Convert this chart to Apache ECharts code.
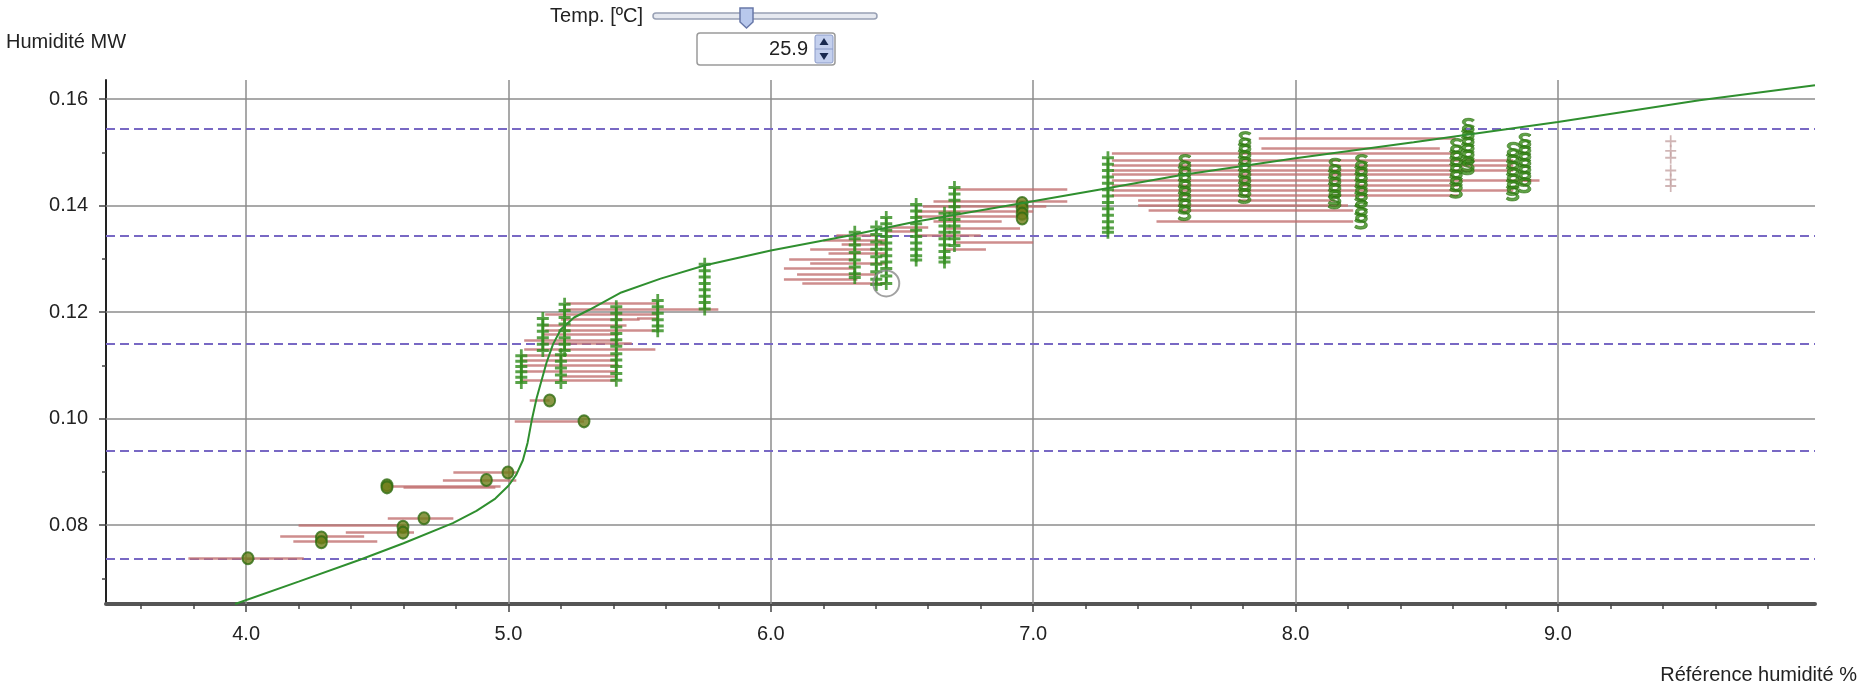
<!DOCTYPE html>
<html>
<head>
<meta charset="utf-8">
<title>Humidité MW</title>
<script src="https://cdn.jsdelivr.net/npm/echarts@6/dist/echarts.min.js"></script>
<style>
  html, body { margin: 0; padding: 0; background: #fff; }
  #chart { width: 1867px; height: 688px; }
</style>
</head>
<body>
<div id="chart"></div>
<script>
  // axes
  const xRange = [3.466, 9.98];
  const yRange = [0.0652, 0.1636];
  const xMajor = [4, 5, 6, 7, 8, 9];
  const xMinor = [3.6, 3.8, 4.2, 4.4, 4.6, 4.8, 5.2, 5.4, 5.6, 5.8, 6.2, 6.4, 6.6, 6.8,
                  7.2, 7.4, 7.6, 7.8, 8.2, 8.4, 8.6, 8.8, 9.2, 9.4, 9.6, 9.8];
  const yMajor = [0.08, 0.10, 0.12, 0.14, 0.16];
  const yMinor = [0.07, 0.09, 0.11, 0.13, 0.15];

  // dashed limit levels
  const limitLevels = [0.0737, 0.0939, 0.1141, 0.1343, 0.1545];

  // fitted curve
  const curveX = [3.958, 4.2, 4.434, 4.6, 4.788, 4.878, 4.95, 5.0, 5.03, 5.055, 5.073, 5.09, 5.107,
                  5.125, 5.145, 5.17, 5.2, 5.25, 5.31, 5.43, 5.58, 5.75, 6.0, 6.3, 6.55, 6.95,
                  7.25, 7.56, 8.0, 8.45, 9.0, 9.54, 9.98];
  const curveY = [0.0652, 0.0694, 0.0735, 0.0766, 0.0804, 0.0827, 0.0850, 0.0874, 0.0895, 0.0922,
                  0.0955, 0.1000, 0.1038, 0.1070, 0.1105, 0.1140, 0.1168, 0.1190, 0.1205, 0.1237,
                  0.1263, 0.1288, 0.1316, 0.1344, 0.1370, 0.1404, 0.1430, 0.1457, 0.1489, 0.1519,
                  0.1557, 0.1598, 0.1626];

  // measured points: circles
  const circlePts = [
    [4.007, 0.0738], [4.287, 0.0777], [4.287, 0.0768], [4.598, 0.0797], [4.598, 0.0786],
    [4.678, 0.0813], [4.537, 0.0875], [4.537, 0.0871], [4.916, 0.0885], [4.998, 0.0899],
    [5.288, 0.0995], [5.157, 0.1034],
    [6.958, 0.1405], [6.958, 0.1395], [6.958, 0.1385], [6.958, 0.1376]
  ];

  // measured points: cross stacks [x, [y...]]
  const crossStacks = [
    [5.049, [0.1118, 0.1108, 0.1098, 0.1088, 0.1078, 0.1068]],
    [5.131, [0.1188, 0.1176, 0.1164, 0.1152, 0.1140, 0.1128]],
    [5.214, [0.1215, 0.1203, 0.1190, 0.1178, 0.1165, 0.1152, 0.1140, 0.1128]],
    [5.200, [0.1120, 0.1108, 0.1095, 0.1082, 0.1068]],
    [5.411, [0.1210, 0.1198, 0.1186, 0.1172, 0.1160, 0.1148, 0.1136, 0.1122, 0.1110, 0.1098, 0.1085, 0.1072]],
    [5.569, [0.1222, 0.1210, 0.1198, 0.1186, 0.1174, 0.1165]],
    [5.748, [0.1290, 0.1278, 0.1266, 0.1254, 0.1242, 0.1230, 0.1218, 0.1206]],
    [6.320, [0.1350, 0.1338, 0.1326, 0.1312, 0.1298, 0.1285, 0.1272, 0.1265]],
    [6.402, [0.1360, 0.1346, 0.1332, 0.1318, 0.1304, 0.1290, 0.1276, 0.1262, 0.1252]],
    [6.440, [0.1378, 0.1366, 0.1354, 0.1342, 0.1330, 0.1318, 0.1306, 0.1294, 0.1282, 0.1268, 0.1254]],
    [6.554, [0.1402, 0.1390, 0.1378, 0.1366, 0.1354, 0.1342, 0.1330, 0.1318, 0.1306, 0.1298]],
    [6.662, [0.1386, 0.1374, 0.1362, 0.1350, 0.1338, 0.1326, 0.1314, 0.1302, 0.1294]],
    [6.700, [0.1434, 0.1422, 0.1410, 0.1398, 0.1386, 0.1374, 0.1362, 0.1350, 0.1338, 0.1325]],
    [7.285, [0.1490, 0.1478, 0.1466, 0.1454, 0.1442, 0.1430, 0.1418, 0.1406, 0.1394, 0.1382, 0.1370, 0.1358, 0.1350]]
  ];

  // measured points: S-marker stacks
  const sStacks = [
    [7.577, [0.1482, 0.1470, 0.1458, 0.1446, 0.1434, 0.1422, 0.1410, 0.1398, 0.1386]],
    [7.806, [0.1525, 0.1513, 0.1501, 0.1489, 0.1477, 0.1465, 0.1453, 0.1441, 0.1429, 0.1418]],
    [8.149, [0.1475, 0.1463, 0.1451, 0.1439, 0.1427, 0.1415, 0.1408]],
    [8.250, [0.1482, 0.1470, 0.1458, 0.1446, 0.1434, 0.1422, 0.1410, 0.1395, 0.1382, 0.1370]],
    [8.612, [0.1512, 0.1500, 0.1488, 0.1476, 0.1464, 0.1452, 0.1440, 0.1428]],
    [8.657, [0.1550, 0.1538, 0.1526, 0.1514, 0.1502, 0.1490, 0.1478, 0.1472]],
    [8.828, [0.1505, 0.1493, 0.1481, 0.1469, 0.1457, 0.1445, 0.1433, 0.1423]],
    [8.873, [0.1522, 0.1510, 0.1498, 0.1486, 0.1474, 0.1462, 0.1450, 0.1438]]
  ];

  // grey reference crosses
  const greyX = 9.43;
  const greyY = [0.1521, 0.1503, 0.1490, 0.1466, 0.1449, 0.1437];

  // selected point
  const selectedPt = [6.44, 0.1254];

  // horizontal deviation segments [x1, x2, y]
  const segments = [
    [3.78, 4.22, 0.0738],
    [4.13, 4.45, 0.0779], [4.18, 4.50, 0.0770],
    [4.20, 4.60, 0.0799], [4.38, 4.64, 0.0787],
    [4.54, 4.79, 0.0813],
    [4.54, 4.97, 0.0874], [4.60, 4.95, 0.0871],
    [4.75, 5.03, 0.0885], [4.79, 5.035, 0.0899],
    [5.024, 5.288, 0.0995], [5.081, 5.157, 0.1034],
    [5.22, 5.57, 0.1216], [5.22, 5.57, 0.1206], [5.14, 5.57, 0.1196], [5.20, 5.50, 0.1186],
    [5.13, 5.45, 0.1176], [5.14, 5.56, 0.1166], [5.13, 5.42, 0.1158], [5.06, 5.42, 0.1148],
    [5.13, 5.47, 0.1142], [5.06, 5.56, 0.1130], [5.05, 5.42, 0.1120], [5.05, 5.41, 0.1110],
    [5.05, 5.42, 0.1100], [5.05, 5.41, 0.1090], [5.20, 5.41, 0.1080], [5.05, 5.41, 0.1072],
    [5.57, 5.80, 0.1205], [5.49, 5.57, 0.1188],
    [6.25, 6.40, 0.1344], [6.20, 6.44, 0.1336], [6.27, 6.44, 0.1328], [6.15, 6.40, 0.1318],
    [6.22, 6.44, 0.1310], [6.07, 6.32, 0.1300], [6.15, 6.44, 0.1292], [6.05, 6.32, 0.1282],
    [6.10, 6.40, 0.1272], [6.05, 6.33, 0.1262], [6.12, 6.44, 0.1254],
    [6.44, 6.60, 0.1360], [6.44, 6.56, 0.1352],
    [6.70, 7.13, 0.1430], [6.62, 7.13, 0.1408], [6.58, 7.05, 0.1398], [6.56, 7.00, 0.1389],
    [6.55, 6.95, 0.1380], [6.62, 6.88, 0.1370], [6.66, 6.95, 0.1357], [6.55, 6.80, 0.1345],
    [6.70, 7.00, 0.1332], [6.66, 6.82, 0.1318],
    [7.86, 8.61, 0.1526], [7.87, 8.55, 0.1507], [7.30, 8.61, 0.1498], [7.30, 8.83, 0.1485],
    [7.30, 8.83, 0.1476], [7.30, 8.83, 0.1466], [7.30, 8.60, 0.1459], [7.30, 8.90, 0.1448],
    [7.30, 8.62, 0.1438], [7.30, 8.83, 0.1429], [7.30, 8.62, 0.1420], [7.40, 8.15, 0.1410],
    [7.40, 8.20, 0.1401], [7.44, 8.22, 0.1391], [7.47, 8.22, 0.1371], [8.87, 8.93, 0.1447]
  ];

  const FONT = "'Liberation Sans', Arial, sans-serif";
  const crossPath = 'path://M5,0H8V5H13V8H8V13H5V8H0V5H5Z';
  const thinCrossPath = 'path://M5.5,0H7.5V5.5H13V7.5H7.5V13H5.5V7.5H0V5.5H5.5Z';
  const sPath = 'path://M10,2C8,0 2,0 1,2.5C0,5 2,6.5 5,7C8,7.5 8,9.5 7,10.5C6,11.5 3,11.5 1,10L0,12C2,14 8,14 9.5,11.5C10.5,9 9,7 5.5,6.2C3,5.7 2.8,4 3.5,3.2C4.5,2.2 7,2.4 8.5,3.5Z';

  function flatten(stacks) {
    const out = [];
    stacks.forEach(s => s[1].forEach(y => out.push([s[0], y])));
    return out;
  }

  // extra axes that only carry tick marks at given values
  function tickAxis(isX, values, len) {
    return {
      type: 'value',
      position: isX ? 'bottom' : 'left',
      min: isX ? xRange[0] : yRange[0],
      max: isX ? xRange[1] : yRange[1],
      axisLine: {show: false},
      splitLine: {show: false},
      axisLabel: {show: false},
      axisTick: {show: true, customValues: values, length: len, lineStyle: {color: '#444', width: 1.5}}
    };
  }

  const gridLines = [];
  xMajor.forEach(x => gridLines.push({coords: [[x, yRange[0]], [x, yRange[1]]]}));
  yMajor.forEach(y => gridLines.push({coords: [[xRange[0], y], [xRange[1], y]]}));

  const chart = echarts.init(document.getElementById('chart'));
  chart.setOption({
    animation: false,
    backgroundColor: '#fff',
    grid: {left: 106, right: 52, top: 80, bottom: 84},
    xAxis: [
      {
        type: 'value', min: xRange[0], max: xRange[1],
        axisLine: {onZero: false, lineStyle: {color: '#555', width: 4}},
        axisTick: {show: false},
        splitLine: {show: false},
        axisLabel: {
          customValues: xMajor, margin: 20,
          color: '#222', fontSize: 20, fontFamily: FONT,
          formatter: v => v.toFixed(1)
        }
      },
      tickAxis(true, xMajor, 8),
      tickAxis(true, xMinor, 5)
    ],
    yAxis: [
      {
        type: 'value', min: yRange[0], max: yRange[1],
        axisLine: {show: true, onZero: false, lineStyle: {color: '#222', width: 2}},
        axisTick: {show: false},
        splitLine: {show: false},
        axisLabel: {
          customValues: yMajor, margin: 18,
          color: '#222', fontSize: 20, fontFamily: FONT,
          formatter: v => v.toFixed(2)
        }
      },
      tickAxis(false, yMajor, 7),
      tickAxis(false, yMinor, 4)
    ],
    series: [
      {
        type: 'lines', coordinateSystem: 'cartesian2d', silent: true, z: 1,
        lineStyle: {color: '#8c8c8c', width: 1.5, opacity: 1},
        data: gridLines
      },
      {
        type: 'lines', coordinateSystem: 'cartesian2d', silent: true,
        lineStyle: {color: '#7868c4', width: 2, type: [9, 5], opacity: 1},
        data: limitLevels.map(y => ({coords: [[xRange[0], y], [xRange[1], y]]}))
      },
      {
        type: 'lines', coordinateSystem: 'cartesian2d', silent: true,
        lineStyle: {color: '#c27070', width: 2.5, opacity: 0.8},
        data: segments.map(s => ({coords: [[s[0], s[2]], [s[1], s[2]]]}))
      },
      {
        type: 'line', showSymbol: false, smooth: false,
        lineStyle: {color: '#2f8f2f', width: 2},
        data: curveX.map((x, i) => [x, curveY[i]])
      },
      {
        type: 'scatter', symbol: 'circle', symbolSize: [11, 12],
        itemStyle: {color: '#6e7d18', borderColor: '#2f6d12', borderWidth: 2},
        data: circlePts
      },
      {
        type: 'scatter', symbol: crossPath, symbolSize: [12, 13],
        itemStyle: {color: '#2f8c1c'},
        data: flatten(crossStacks)
      },
      {
        type: 'scatter', symbol: sPath, symbolSize: [13, 15],
        itemStyle: {color: '#3a8c1a', borderColor: '#2a6e10', borderWidth: 0.8},
        data: flatten(sStacks)
      },
      {
        type: 'scatter', symbol: thinCrossPath, symbolSize: [11, 12],
        itemStyle: {color: '#c4a2a2'},
        data: greyY.map(y => [greyX, y])
      },
      {
        type: 'scatter', symbol: 'circle', symbolSize: 26,
        itemStyle: {color: 'rgba(0,0,0,0)', borderColor: '#8a8a8a', borderWidth: 2},
        data: [selectedPt]
      }
    ],
    graphic: [
      {type: 'text', x: 6, y: 42, style: {text: 'Humidité MW', font: '20px ' + FONT, fill: '#222', textVerticalAlign: 'middle'}},
      {type: 'text', x: 1857, y: 675, style: {text: 'Référence humidité %', font: '20px ' + FONT, fill: '#222', textAlign: 'right', textVerticalAlign: 'middle'}},
      {type: 'text', x: 643, y: 16, style: {text: 'Temp. [ºC]', font: '20px ' + FONT, fill: '#222', textAlign: 'right', textVerticalAlign: 'middle'}},
      {type: 'rect', shape: {x: 653, y: 13, width: 224, height: 6, r: 3}, style: {fill: '#e6e9f0', stroke: '#98a0b4', lineWidth: 1.5}},
      {type: 'polygon', shape: {points: [[740, 8], [753, 8], [753, 22], [746.5, 28], [740, 22]]}, style: {fill: '#b8c8ec', stroke: '#6878a8', lineWidth: 1.5}},
      {type: 'rect', shape: {x: 697, y: 33, width: 138, height: 32, r: 3}, style: {fill: '#fff', stroke: '#9a9a9a', lineWidth: 1.5}},
      {type: 'text', x: 808, y: 49, style: {text: '25.9', font: '20px ' + FONT, fill: '#222', textAlign: 'right', textVerticalAlign: 'middle'}},
      {type: 'rect', shape: {x: 815, y: 35, width: 18, height: 28, r: 2}, style: {fill: '#c4d0ee', stroke: '#8a9ac8', lineWidth: 1}},
      {type: 'line', shape: {x1: 815, y1: 49, x2: 833, y2: 49}, style: {stroke: '#8a9ac8', lineWidth: 1}},
      {type: 'polygon', shape: {points: [[824, 38], [819.5, 45], [828.5, 45]]}, style: {fill: '#1a2a50'}},
      {type: 'polygon', shape: {points: [[819.5, 53], [828.5, 53], [824, 60]]}, style: {fill: '#1a2a50'}}
    ]
  });
</script>
</body>
</html>
